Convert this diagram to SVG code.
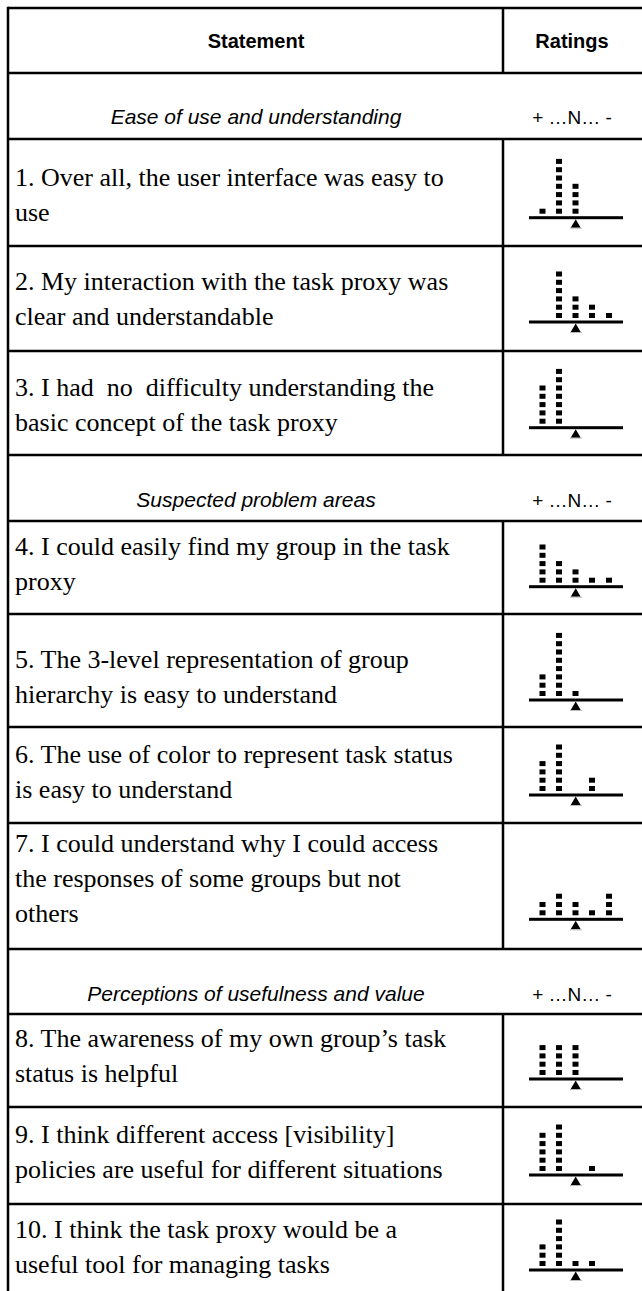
<svg xmlns="http://www.w3.org/2000/svg" width="642" height="1291" viewBox="0 0 642 1291">
<style>
.st{font-family:"Liberation Serif","Times New Roman",serif;font-size:26px;fill:#000;white-space:pre}
.hd{font-family:"Liberation Sans",Arial,sans-serif;font-size:20px;font-weight:bold;text-anchor:middle;fill:#000}
.sec{font-family:"Liberation Sans",Arial,sans-serif;font-size:21px;font-style:italic;text-anchor:middle;fill:#000}
.sc{font-family:"Liberation Sans",Arial,sans-serif;font-size:19px;text-anchor:middle;fill:#000;white-space:pre}
.ln{stroke:#000;stroke-width:2.5;fill:none}
</style>
<defs>
<rect id="q" width="6" height="5" fill="#000"/>
<g id="s1"><use href="#q" y="-9"/></g>
<g id="s2"><use href="#s1"/><use href="#q" y="-17.3"/></g>
<g id="s3"><use href="#s2"/><use href="#q" y="-25.6"/></g>
<g id="s4"><use href="#s3"/><use href="#q" y="-33.9"/></g>
<g id="s5"><use href="#s4"/><use href="#q" y="-42.2"/></g>
<g id="s6"><use href="#s5"/><use href="#q" y="-50.5"/></g>
<g id="s7"><use href="#s6"/><use href="#q" y="-58.8"/></g>
<g id="s8"><use href="#s7"/><use href="#q" y="-67.1"/></g>
<g id="base"><rect x="529" y="-1.5" width="94" height="3" fill="#000"/><polygon points="575.7,1.5 580.7,10 570.7,10" fill="#000"/><line x1="570" y1="10.5" x2="582" y2="10.5" stroke="#bbb" stroke-width="1"/></g>
</defs>
<rect width="642" height="1291" fill="#fff"/>
<g id="table-lines" class="ln">
<path d="M8,8H642M8,73H642M8,139H642M8,246H642M8,351H642M8,455H642M8,521H642M8,614H642M8,727H642M8,823H642M8,949H642M8,1014H642M8,1107H642M8,1204H642"/>
<path d="M8,6.8V1291M503,8V73M503,139V455M503,521V949M503,1014V1291"/>
</g>
<g id="header">
<text class="hd" x="256" y="48">Statement</text>
<text class="hd" x="572" y="48">Ratings</text>
</g>
<g id="section-1">
<text class="sec" x="256" y="124">Ease of use and understanding</text>
<text class="sc" x="572" y="124">+ …N… -</text>
</g>
<g id="row-1">
<text class="st" x="15" y="186">1. Over all, the user interface was easy to</text>
<text class="st" x="15" y="221">use</text>
<g transform="translate(0,217.7)"><use href="#base"/><use href="#s1" x="539.5"/><use href="#s7" x="556"/><use href="#s4" x="572.5"/></g>
</g>
<g id="row-2">
<text class="st" x="15" y="290">2. My interaction with the task proxy was</text>
<text class="st" x="15" y="325">clear and understandable</text>
<g transform="translate(0,322)"><use href="#base"/><use href="#s6" x="556"/><use href="#s3" x="572.5"/><use href="#s2" x="589"/><use href="#s1" x="606"/></g>
</g>
<g id="row-3">
<text class="st" x="15" y="396">3. I had  no  difficulty understanding the</text>
<text class="st" x="15" y="431">basic concept of the task proxy</text>
<g transform="translate(0,427.7)"><use href="#base"/><use href="#s5" x="539.5"/><use href="#s7" x="556"/></g>
</g>
<g id="section-2">
<text class="sec" x="256" y="507">Suspected problem areas</text>
<text class="sc" x="572" y="507">+ …N… -</text>
</g>
<g id="row-4">
<text class="st" x="15" y="555">4. I could easily find my group in the task</text>
<text class="st" x="15" y="590">proxy</text>
<g transform="translate(0,586.7)"><use href="#base"/><use href="#s5" x="539.5"/><use href="#s3" x="556"/><use href="#s2" x="572.5"/><use href="#s1" x="589"/><use href="#s1" x="606"/></g>
</g>
<g id="row-5">
<text class="st" x="15" y="668">5. The 3-level representation of group</text>
<text class="st" x="15" y="703">hierarchy is easy to understand</text>
<g transform="translate(0,700)"><use href="#base"/><use href="#s3" x="539.5"/><use href="#s8" x="556"/><use href="#s1" x="572.5"/></g>
</g>
<g id="row-6">
<text class="st" x="15" y="763">6. The use of color to represent task status</text>
<text class="st" x="15" y="798">is easy to understand</text>
<g transform="translate(0,795)"><use href="#base"/><use href="#s4" x="539.5"/><use href="#s6" x="556"/><use href="#s2" x="589"/></g>
</g>
<g id="row-7">
<text class="st" x="15" y="852">7. I could understand why I could access</text>
<text class="st" x="15" y="887">the responses of some groups but not</text>
<text class="st" x="15" y="922">others</text>
<g transform="translate(0,919.3)"><use href="#base"/><use href="#s2" x="539.5"/><use href="#s3" x="556"/><use href="#s2" x="572.5"/><use href="#s1" x="589"/><use href="#s3" x="606"/></g>
</g>
<g id="section-3">
<text class="sec" x="256" y="1001">Perceptions of usefulness and value</text>
<text class="sc" x="572" y="1001">+ …N… -</text>
</g>
<g id="row-8">
<text class="st" x="15" y="1047">8. The awareness of my own group’s task</text>
<text class="st" x="15" y="1082">status is helpful</text>
<g transform="translate(0,1079)"><use href="#base"/><use href="#s4" x="539.5"/><use href="#s4" x="556"/><use href="#s4" x="572.5"/></g>
</g>
<g id="row-9">
<text class="st" x="15" y="1143">9. I think different access [visibility]</text>
<text class="st" x="15" y="1178">policies are useful for different situations</text>
<g transform="translate(0,1175)"><use href="#base"/><use href="#s5" x="539.5"/><use href="#s6" x="556"/><use href="#s1" x="589"/></g>
</g>
<g id="row-10">
<text class="st" x="15" y="1238">10. I think the task proxy would be a</text>
<text class="st" x="15" y="1273">useful tool for managing tasks</text>
<g transform="translate(0,1270)"><use href="#base"/><use href="#s3" x="539.5"/><use href="#s6" x="556"/><use href="#s1" x="572.5"/><use href="#s1" x="589"/></g>
</g>
</svg>
